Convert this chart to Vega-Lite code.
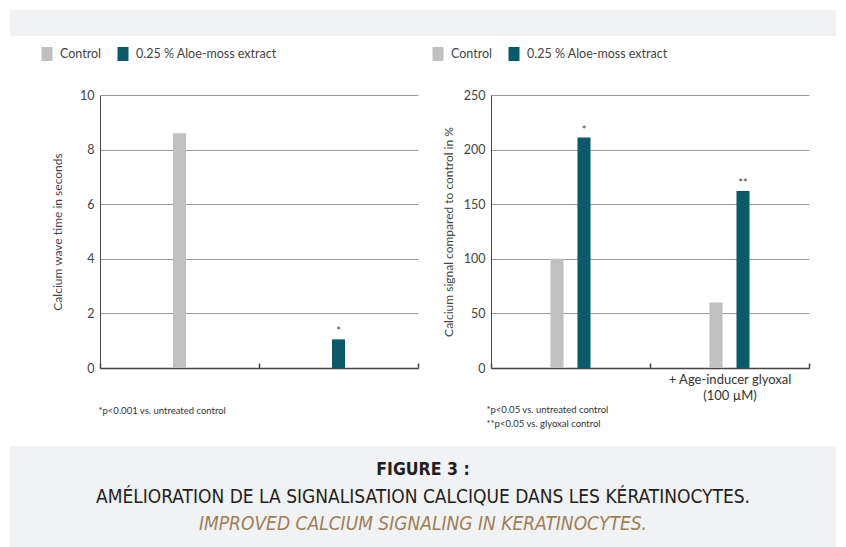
{
  "$schema": "https://vega.github.io/schema/vega-lite/v6.json",
  "background": "white",
  "padding": {"left": 10, "top": 10, "right": 0, "bottom": 0},
  "spacing": 18,
  "config": {
    "font": "Lato",
    "view": {"stroke": null},
    "axis": {
      "labelFont": "Lato", "titleFont": "Lato",
      "labelFontSize": 12.5, "labelColor": "#444", "titleColor": "#444",
      "titleFontSize": 12, "titleFontWeight": "normal",
      "domainColor": "#444", "tickColor": "#444", "gridColor": "#9a9a9a"
    },
    "legend": {"padding": 0, "labelFont": "Lato", "labelFontSize": 12.5, "labelColor": "#444"}
  },
  "vconcat": [
    {
      "spacing": 11,
      "vconcat": [
        {
          "width": 826,
          "height": 26,
          "view": {"fill": "#f1f2f4", "stroke": null},
          "data": {"values": [{"blank": ""}]},
          "mark": {"type": "text"},
          "encoding": {"text": {"field": "blank"}}
        },
        {
          "hconcat": [
            {
              "width": 18,
              "height": 273,
              "data": {"values": [{"blank": ""}]},
              "mark": {"type": "text"},
              "encoding": {"text": {"field": "blank"}}
            },
            {
              "width": 318,
              "height": 273,
              "data": {"values": [
                {"group": "a", "treatment": "Control", "value": 8.6, "sig": ""},
                {"group": "b", "treatment": "0.25 % Aloe-moss extract", "value": 1.05, "sig": "*"}
              ]},
              "encoding": {
                "x": {"field": "group", "type": "nominal",
                  "scale": {"paddingInner": 0, "paddingOuter": 0},
                  "axis": {"labels": false, "tickBand": "extent", "tickSize": -5, "tickWidth": 1.5, "domainWidth": 1.5,
                    "title": "*p<0.001 vs. untreated control", "titleFontSize": 9.5, "titleX": -2, "titleY": 42,
                    "titleAlign": "left", "titleBaseline": "middle", "titleColor": "#333"}},
                "y": {"field": "value", "type": "quantitative",
                  "scale": {"domain": [0, 10]},
                  "axis": {"values": [0, 2, 4, 6, 8, 10], "ticks": false, "domain": true, "labelPadding": 6,
                    "title": "Calcium wave time in seconds", "titleX": -43, "titleY": 136.5,
                    "titleAngle": -90, "titleAlign": "center", "titleBaseline": "middle"}}
              },
              "layer": [
                {"mark": {"type": "bar", "width": 13},
                  "encoding": {"color": {"field": "treatment", "type": "nominal",
                    "scale": {"domain": ["Control", "0.25 % Aloe-moss extract"], "range": ["#c0c0c0", "#0b5a6b"]},
                    "legend": {"orient": "none", "legendX": -60, "legendY": -48, "direction": "horizontal", "title": null,
                      "symbolType": "M-0.786,-1H0.786V1H-0.786Z", "symbolSize": 196, "symbolStrokeWidth": 0,
                      "labelOffset": 6, "columnPadding": 14}}}},
                {"mark": {"type": "text", "baseline": "alphabetic", "dy": -4, "fontSize": 11, "color": "#444"},
                  "encoding": {"text": {"field": "sig"}}}
              ]
            },
            {
              "width": 318,
              "height": 273,
              "data": {"values": [
                {"group": "u", "treatment": "Control", "value": 100, "sig": ""},
                {"group": "u", "treatment": "0.25 % Aloe-moss extract", "value": 211, "sig": "*"},
                {"group": "g", "treatment": "Control", "value": 60, "sig": ""},
                {"group": "g", "treatment": "0.25 % Aloe-moss extract", "value": 162, "sig": "**"}
              ]},
              "encoding": {
                "x": {"field": "group", "type": "nominal", "sort": ["u", "g"],
                  "scale": {"paddingInner": 0, "paddingOuter": 0},
                  "axis": {"labelAngle": 0, "tickBand": "extent", "tickSize": -5, "tickWidth": 1.5, "domainWidth": 1.5,
                    "labelExpr": "datum.value == 'g' ? ['+ Age-inducer glyoxal', '(100 µM)'] : ''",
                    "labelFontSize": 13, "labelPadding": 10, "labelLineHeight": 16, "labelColor": "#333",
                    "title": ["*p<0.05 vs. untreated control", "**p<0.05 vs. glyoxal control"],
                    "titleFontSize": 9.5, "titleX": -5, "titleY": 36, "titleLineHeight": 14,
                    "titleAlign": "left", "titleBaseline": "top", "titleColor": "#333"}},
                "xOffset": {"field": "treatment", "type": "nominal",
                  "scale": {"domain": ["p1", "p2", "Control", "0.25 % Aloe-moss extract", "p3", "p4"],
                    "paddingInner": 0.5185, "paddingOuter": 0.204}},
                "y": {"field": "value", "type": "quantitative",
                  "scale": {"domain": [0, 250]},
                  "axis": {"values": [0, 50, 100, 150, 200, 250], "ticks": false, "domain": true, "labelPadding": 6,
                    "title": "Calcium signal compared to control in %", "titleX": -43, "titleY": 136.5,
                    "titleAngle": -90, "titleAlign": "center", "titleBaseline": "middle"}}
              },
              "layer": [
                {"mark": {"type": "bar"},
                  "encoding": {"color": {"field": "treatment", "type": "nominal",
                    "scale": {"domain": ["Control", "0.25 % Aloe-moss extract"], "range": ["#c0c0c0", "#0b5a6b"]},
                    "legend": {"orient": "none", "legendX": -60, "legendY": -48, "direction": "horizontal", "title": null,
                      "symbolType": "M-0.786,-1H0.786V1H-0.786Z", "symbolSize": 196, "symbolStrokeWidth": 0,
                      "labelOffset": 6, "columnPadding": 14}}}},
                {"mark": {"type": "text", "baseline": "alphabetic", "dy": -4, "fontSize": 11, "color": "#444"},
                  "encoding": {"text": {"field": "sig"}}}
              ]
            }
          ],
          "spacing": 12,
          "resolve": {"legend": {"color": "independent"}}
        }
      ]
    },
    {
      "width": 826,
      "height": 102,
      "view": {"fill": "#f1f2f4", "stroke": null},
      "data": {"values": [
        {"n": 1, "line": "FIGURE 3 :"},
        {"n": 2, "line": "AMÉLIORATION DE LA SIGNALISATION CALCIQUE DANS LES KÉRATINOCYTES."},
        {"n": 3, "line": "IMPROVED CALCIUM SIGNALING IN KERATINOCYTES."}
      ]},
      "encoding": {
        "y": {"field": "n", "type": "ordinal", "scale": {"type": "point", "padding": 0.855}, "axis": null},
        "text": {"field": "line"}
      },
      "layer": [
        {"transform": [{"filter": "datum.n == 1"}],
          "mark": {"type": "text", "font": "'Liberation Sans Narrow', 'DejaVu Sans Condensed', sans-serif", "fontSize": 17.5, "fontWeight": "bold", "color": "#231f20", "baseline": "middle"}},
        {"transform": [{"filter": "datum.n == 2"}],
          "mark": {"type": "text", "font": "'Liberation Sans Narrow', 'DejaVu Sans Condensed', sans-serif", "fontSize": 19, "color": "#231f20", "baseline": "middle"}},
        {"transform": [{"filter": "datum.n == 3"}],
          "mark": {"type": "text", "font": "'Liberation Sans Narrow', 'DejaVu Sans Condensed', sans-serif", "fontSize": 19, "fontStyle": "italic", "color": "#9d7f55", "baseline": "middle"}}
      ]
    }
  ]
}
